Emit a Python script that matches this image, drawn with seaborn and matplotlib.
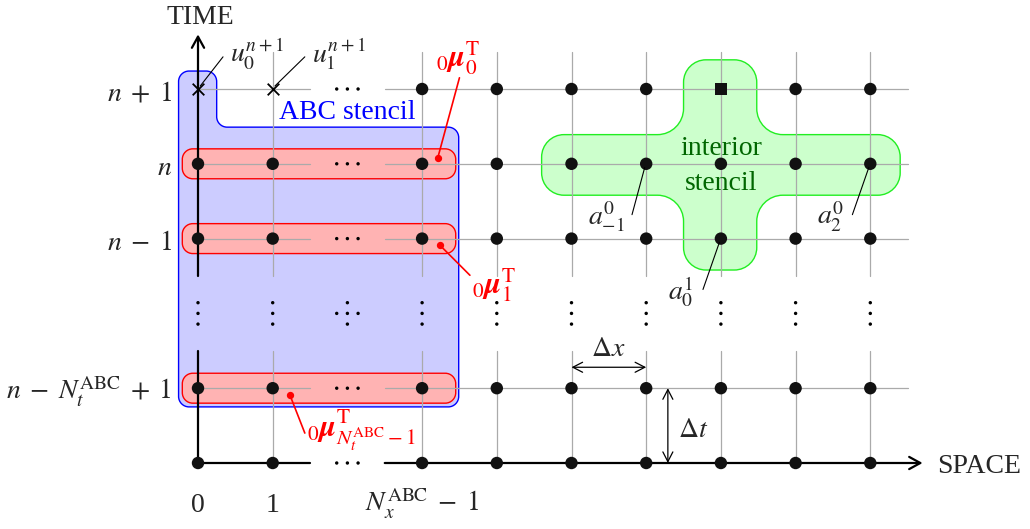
import numpy as np
import pandas as pd
import matplotlib
matplotlib.use("Agg")
import matplotlib.pyplot as plt
from matplotlib.path import Path
from matplotlib.patches import PathPatch, FancyArrowPatch
import seaborn as sns

# ---------------- data ----------------
space_cols = [0, 1, 2, 3, 4, 5, 6, 7, 8, 9]          # column 2 is the "..." column
time_rows = [0, 1, 2, 3, 4, 5]                        # row 2 is the vertical "..." row
ellipsis_col = 2
ellipsis_row = 2
row_labels = ["", r"$n\;-\;N_t^{\mathrm{ABC}}\;+\;1$", "", r"$n\;-\;1$", r"$n$", r"$n\;+\;1$"]
col_labels = ["0", "1", "", r"$N_x^{\mathrm{ABC}}\;-\;1$", "", "", "", "", "", ""]
cross_nodes = [(0, 5), (1, 5)]       # unknowns u_0^{n+1}, u_1^{n+1}
square_nodes = [(7, 5)]              # interior target node
mu_rows = [4, 3, 1]                  # ABC coefficient rows
mu_labels = [r"${}_0\boldsymbol{\mu}_0^{\mathrm{T}}$",
             r"${}_0\boldsymbol{\mu}_1^{\mathrm{T}}$",
             r"${}_0\boldsymbol{\mu}_{N_t^{\mathrm{ABC}}-1}^{\mathrm{T}}$"]

# ---------------- style ----------------
sns.set_theme(style="white")
plt.rcParams["font.family"] = ["Liberation Serif", "DejaVu Serif"]
plt.rcParams["mathtext.fontset"] = "stix"

PX, PY = 74.7, 74.8   # pixels per grid unit
W, H = 1030, 529
fig = plt.figure(figsize=(W / 100, H / 100), dpi=100)
ax = fig.add_axes([0, 0, 1, 1])
ax.set_xlim(-198 / PX, (W - 198) / PX)
ax.set_ylim((463 - H) / PY, 463 / PY)
ax.axis("off")

FS = 20
GRAY = "#aaaaaa"


def rounded_path(verts, radii):
    n = len(verts)
    pts, codes = [], []
    k = 0.5523
    for i in range(n):
        P = np.array(verts[i], float)
        A = np.array(verts[i - 1], float)
        B = np.array(verts[(i + 1) % n], float)
        r = radii[i] if np.ndim(radii) else radii
        da = (A - P) / np.linalg.norm(A - P)
        db = (B - P) / np.linalg.norm(B - P)
        P1 = P + r * da
        P2 = P + r * db
        pts.append(P1)
        codes.append(Path.MOVETO if i == 0 else Path.LINETO)
        pts += [P1 + k * (P - P1), P2 + k * (P - P2), P2]
        codes += [Path.CURVE4] * 3
    pts.append(pts[0])
    codes.append(Path.CLOSEPOLY)
    return Path(pts, codes)


def arrow(p0, p1, style, lw, z=5):
    ax.add_patch(FancyArrowPatch(p0, p1, arrowstyle=style, mutation_scale=20, color="black",
                                 lw=lw, zorder=z, shrinkA=0, shrinkB=0))


# ---------------- shapes ----------------
blue = [(-0.26, 0.75), (3.49, 0.75), (3.49, 4.49), (0.25, 4.49), (0.25, 5.24), (-0.26, 5.24)]
ax.add_patch(PathPatch(rounded_path(blue, 0.14), fc="#ccccff", ec="#0000ff", lw=1.0, zorder=0))

for r in mu_rows:
    red = [(-0.21, r - 0.2), (3.45, r - 0.2), (3.45, r + 0.2), (-0.21, r + 0.2)]
    ax.add_patch(PathPatch(rounded_path(red, 0.14), fc="#ffb3b3", ec="#ff0000", lw=1.0, zorder=1))

green = [(4.6, 3.58), (6.5, 3.58), (6.5, 2.58), (7.48, 2.58), (7.48, 3.58), (9.4, 3.58),
         (9.4, 4.39), (7.48, 4.39), (7.48, 5.39), (6.5, 5.39), (6.5, 4.39), (4.6, 4.39)]
g_r = [0.3, 0.35, 0.3, 0.3, 0.35, 0.3, 0.3, 0.35, 0.3, 0.3, 0.35, 0.3]
ax.add_patch(PathPatch(rounded_path(green, g_r), fc="#ccffcc", ec="#22ee22", lw=1.0, zorder=1))

# ---------------- grid lines ----------------
for c in space_cols:
    if c in (0, ellipsis_col):
        continue
    ax.plot([c, c], [0, ellipsis_row - 0.5], color=GRAY, lw=0.9, zorder=2)
    ax.plot([c, c], [ellipsis_row + 0.5, 5.5], color=GRAY, lw=0.9, zorder=2)
for r in time_rows:
    if r in (0, ellipsis_row):
        continue
    ax.plot([0, ellipsis_col - 0.5], [r, r], color=GRAY, lw=0.9, zorder=2)
    ax.plot([ellipsis_col + 0.5, 9.5], [r, r], color=GRAY, lw=0.9, zorder=2)

# axes
ax.plot([0, 0], [0, ellipsis_row - 0.5], color="black", lw=1.6, zorder=3)
ax.plot([0, ellipsis_col - 0.5], [0, 0], color="black", lw=1.6, zorder=3)
arrow((0, ellipsis_row + 0.5), (0, 5.73), "->,head_length=0.4,head_width=0.22", 1.6, 3)
arrow((ellipsis_col + 0.5, 0), (9.7, 0), "->,head_length=0.4,head_width=0.22", 1.6, 3)

# ---------------- nodes ----------------
nodes = []
for c in space_cols:
    for r in time_rows:
        if c == ellipsis_col or r == ellipsis_row:
            continue
        if (c, r) in cross_nodes:
            kind = "cross"
        elif (c, r) in square_nodes:
            kind = "square"
        else:
            kind = "dot"
        nodes.append({"x": c, "y": r, "kind": kind})
nodes = pd.DataFrame(nodes)

sns.scatterplot(data=nodes[nodes.kind == "dot"], x="x", y="y", ax=ax, color="#111111",
                s=80, marker="o", edgecolor="none", zorder=4, legend=False)
sns.scatterplot(data=nodes[nodes.kind == "square"], x="x", y="y", ax=ax, color="#111111",
                s=80, marker="s", edgecolor="none", zorder=4, legend=False)
sns.scatterplot(data=nodes[nodes.kind == "cross"], x="x", y="y", ax=ax, color="black",
                s=70, marker="x", linewidth=1.3, zorder=4, legend=False)

# ellipsis dots
ell = []
off = 0.143
for r in time_rows:
    if r == ellipsis_row:
        continue
    for d in (-off, 0, off):
        ell.append({"x": ellipsis_col + d, "y": r})
for c in space_cols:
    for d in (-off, 0, off):
        if c == ellipsis_col and d == 0:
            continue
        ell.append({"x": c, "y": ellipsis_row + d})
ell.append({"x": ellipsis_col - off, "y": ellipsis_row})
ell.append({"x": ellipsis_col + off, "y": ellipsis_row})
ell.append({"x": ellipsis_col, "y": ellipsis_row})
ell = pd.DataFrame(ell)
sns.scatterplot(data=ell, x="x", y="y", ax=ax, color="black", s=6, edgecolor="none",
                zorder=4, legend=False)

# ---------------- labels ----------------
ax.text(0.03, 5.87, "TIME", fontsize=FS, ha="center", va="baseline")
ax.text(9.9, -0.13, "SPACE", fontsize=FS, ha="left", va="baseline")
for r, lab in zip(time_rows, row_labels):
    if lab:
        ax.text(-0.35, r - 0.15, lab, fontsize=FS, ha="right", va="baseline")
for c, lab in zip(space_cols, col_labels):
    if lab:
        ax.text(c, -0.655, lab, fontsize=FS, ha="center", va="baseline")

ax.text(2.0, 4.60, "ABC stencil", fontsize=FS, color="#0000ff", ha="center", va="baseline")
ax.text(7.0, 4.12, "interior", fontsize=FS, color="#006600", ha="center", va="baseline")
ax.text(7.0, 3.65, "stencil", fontsize=FS, color="#006600", ha="center", va="baseline")

# u labels
ax.plot([0.03, 0.335], [5.04, 5.43], color="black", lw=0.8, zorder=5)
ax.text(0.43, 5.35, r"$u_0^{n+1}$", fontsize=FS, ha="left", va="baseline")
ax.plot([1.03, 1.43], [5.04, 5.43], color="black", lw=0.8, zorder=5)
ax.text(1.53, 5.35, r"$u_1^{n+1}$", fontsize=FS, ha="left", va="baseline")

# a labels
ax.plot([5.98, 5.81], [3.95, 3.32], color="black", lw=0.8, zorder=5)
ax.text(5.22, 3.18, r"$a_{-1}^0$", fontsize=FS, ha="left", va="baseline")
ax.plot([8.98, 8.76], [3.95, 3.32], color="black", lw=0.8, zorder=5)
ax.text(8.29, 3.18, r"$a_2^0$", fontsize=FS, ha="left", va="baseline")
ax.plot([6.98, 6.76], [2.95, 2.32], color="black", lw=0.8, zorder=5)
ax.text(6.29, 2.18, r"$a_0^1$", fontsize=FS, ha="left", va="baseline")

# mu labels
mu_dots = [(3.21, 4.08), (3.24, 2.91), (1.23, 0.91)]
mu_ends = [(3.50, 5.15), (3.64, 2.51), (1.43, 0.40)]
mu_text = [(3.19, 5.30, "baseline"), (3.67, 2.38, "center"), (1.46, 0.44, "center")]
for (dx, dy), (ex, ey), (tx, ty, va), lab in zip(mu_dots, mu_ends, mu_text, mu_labels):
    ax.plot([dx, ex], [dy, ey], color="#ff0000", lw=1.2, zorder=5)
    ax.scatter([dx], [dy], color="#ff0000", s=18, zorder=5)
    ax.text(tx, ty, lab, fontsize=22, color="#ff0000", ha="left", va=va)

# spacing arrows
arrow((5, 1.28), (6, 1.28), "<->,head_length=0.35,head_width=0.18", 0.9)
ax.text(5.49, 1.43, r"$\Delta x$", fontsize=FS, ha="center", va="baseline")
arrow((6.29, 0.0), (6.29, 1.0), "<->,head_length=0.35,head_width=0.18", 0.9)
ax.text(6.42, 0.35, r"$\Delta t$", fontsize=FS, ha="left", va="baseline")

fig.savefig("out.png", dpi=100)
